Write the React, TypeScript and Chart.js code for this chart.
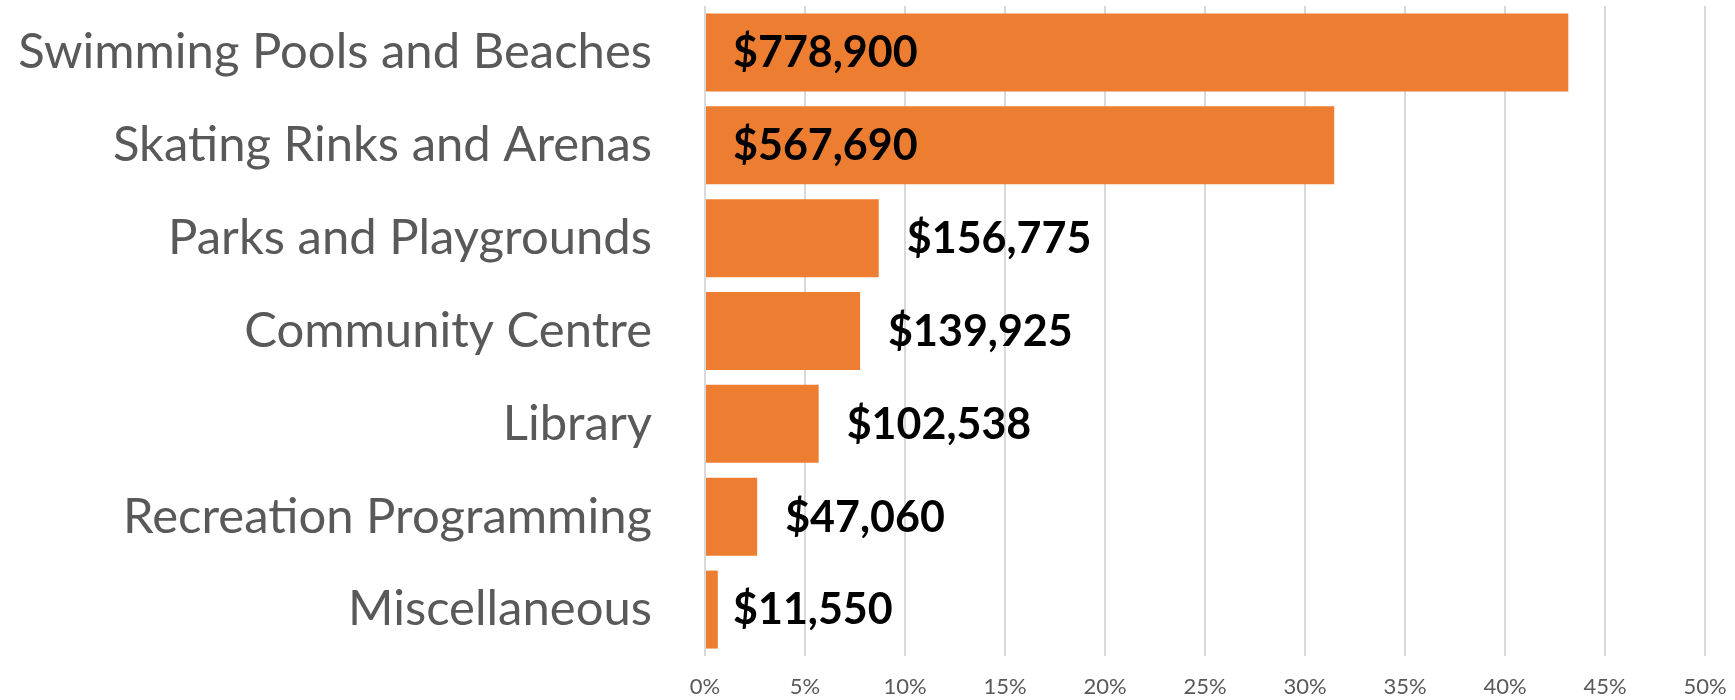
import React, { useEffect, useRef } from "react";
import { Chart, registerables } from "chart.js";

Chart.register(...registerables);

const categories = [
  "Swimming Pools and Beaches",
  "Skating Rinks and Arenas",
  "Parks and Playgrounds",
  "Community Centre",
  "Library",
  "Recreation Programming",
  "Miscellaneous",
];
const amounts = [778900, 567690, 156775, 139925, 102538, 47060, 11550];
const labelAnchors = ["insideBase", "insideBase", "outsideEnd", "outsideEnd", "outsideEnd", "outsideEnd", "insideBase"];
const xMin = 0;
const xMax = 0.5;
const xStep = 0.05;

const total = amounts.reduce((a, b) => a + b, 0);
const shares = amounts.map((v) => v / total);
const amountLabels = amounts.map((v) => "$" + v.toLocaleString("en-US"));

const FONT = "Lato";

const barLabelPlugin = {
  id: "barLabels",
  afterDatasetsDraw(chart: any) {
    const ctx = chart.ctx;
    const meta = chart.getDatasetMeta(0);
    ctx.save();
    ctx.font = `bold 43px ${FONT}`;
    ctx.fillStyle = "#000000";
    ctx.textBaseline = "middle";
    ctx.textAlign = "left";
    meta.data.forEach((bar: any, i: number) => {
      const { x, y, base } = bar.getProps(["x", "y", "base"], true);
      const tx = labelAnchors[i] === "insideBase" ? base + 27 : x + 28;
      ctx.fillText(amountLabels[i], tx, y + 1);
    });
    ctx.restore();
  },
};

export default function App() {
  const canvasRef = useRef<HTMLCanvasElement | null>(null);

  useEffect(() => {
    let chart: Chart | null = null;
    let cancelled = false;
    const make = () => {
      if (cancelled || !canvasRef.current) return;
      chart = new Chart(canvasRef.current, {
        type: "bar",
        data: {
          labels: categories,
          datasets: [
            {
              data: shares,
              backgroundColor: "#ED7D31",
              borderWidth: 0,
              barPercentage: 0.84,
              categoryPercentage: 1,
            },
          ],
        },
        options: {
          indexAxis: "y",
          responsive: false,
          animation: false,
          layout: { padding: { top: 6, right: 30, left: 0, bottom: 0 } },
          plugins: {
            legend: { display: false },
            tooltip: { enabled: false },
          },
          scales: {
            x: {
              min: xMin,
              max: xMax,
              ticks: {
                stepSize: xStep,
                callback: (v: any) => Math.round(Number(v) * 100) + "%",
                font: { family: FONT, size: 22 },
                color: "#595959",
                padding: 18,
              },
              grid: { color: "#d9d9d9", lineWidth: 2, drawTicks: false },
              border: { display: false },
              afterFit: (s: any) => {
                s.height = 44;
                s.paddingLeft = 0;
                s.paddingRight = 0;
              },
            },
            y: {
              ticks: {
                font: { family: FONT, size: 49 },
                color: "#595959",
                padding: 45,
              },
              grid: { display: false },
              border: { display: false },
              afterFit: (s: any) => {
                s.width = 705;
                s.paddingTop = 0;
                s.paddingBottom = 0;
              },
            },
          },
        } as any,
        plugins: [barLabelPlugin],
      });
    };
    Promise.all([
      document.fonts.load(`49px ${FONT}`),
      document.fonts.load(`bold 43px ${FONT}`),
    ])
      .catch(() => null)
      .then(make);
    return () => {
      cancelled = true;
      if (chart) chart.destroy();
    };
  }, []);

  return (
    <div style={{ position: "fixed", left: 0, top: 0, width: 1735, height: 700, background: "#ffffff" }}>
      <canvas ref={canvasRef} width={1735} height={700} />
    </div>
  );
}
